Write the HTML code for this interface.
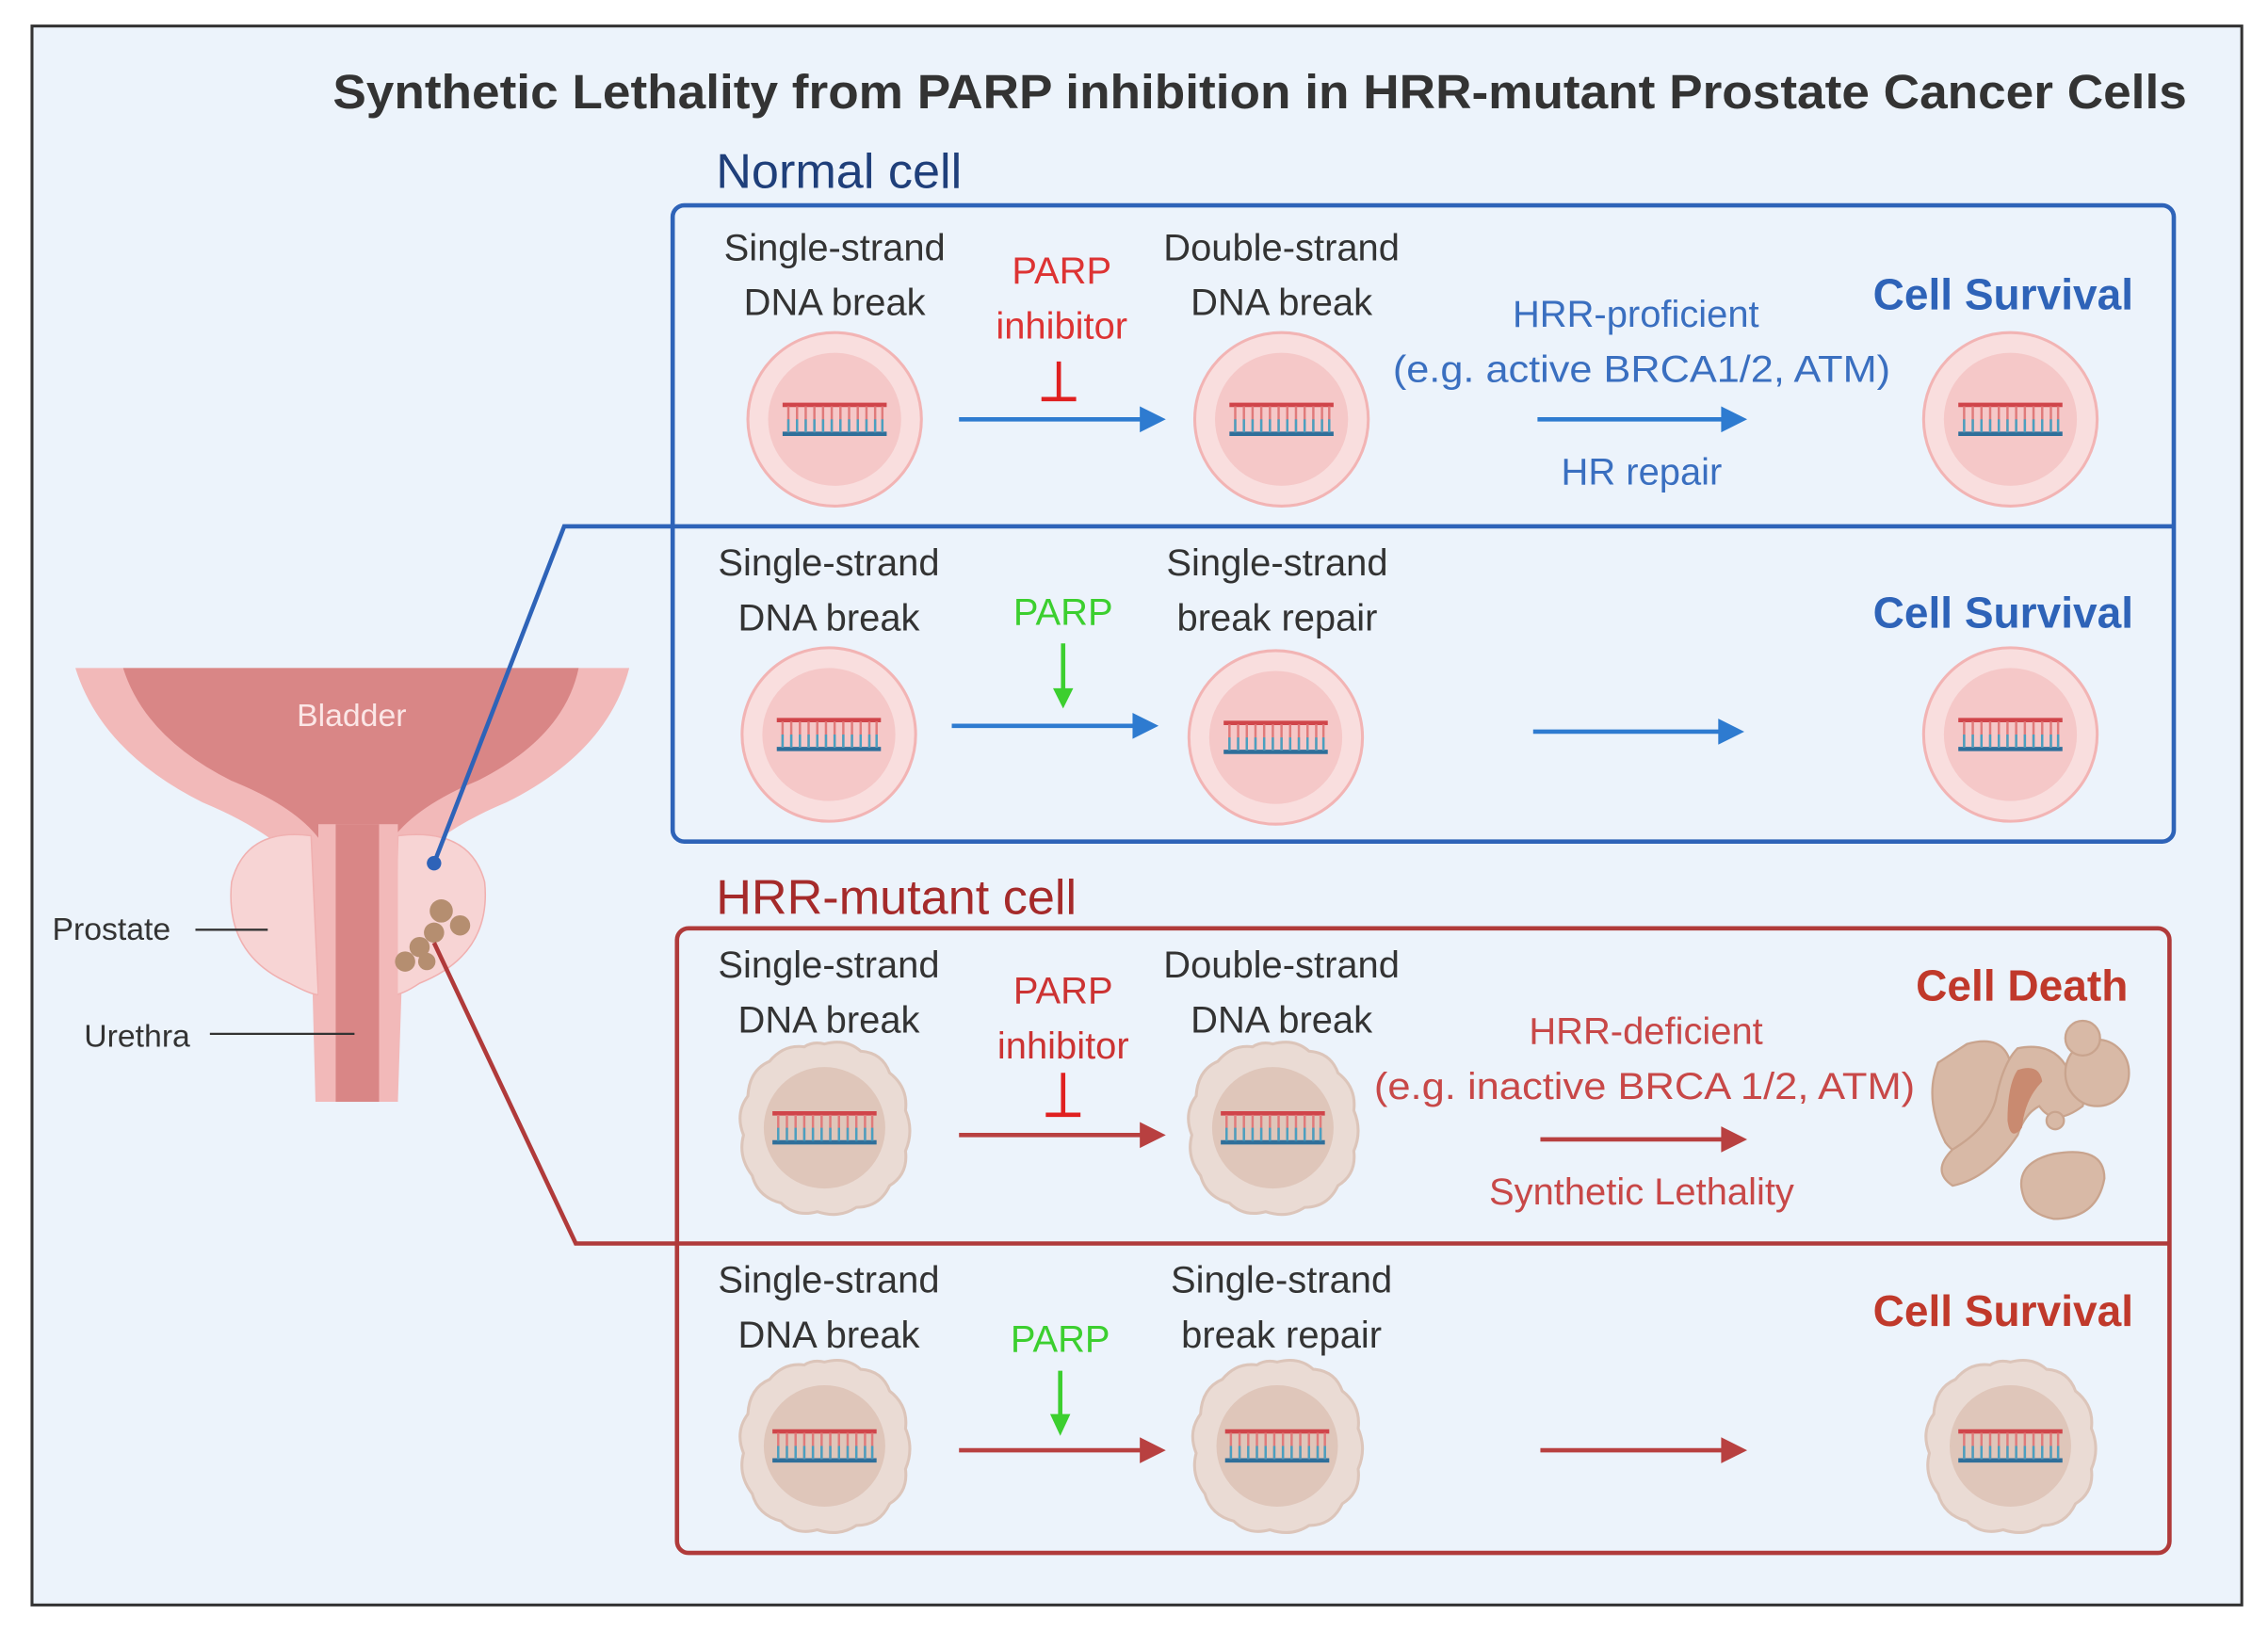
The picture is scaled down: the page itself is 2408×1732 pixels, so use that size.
<!DOCTYPE html>
<html><head><meta charset="utf-8"><style>
html,body{margin:0;padding:0;background:#fff;}
svg{display:block;}
text{font-family:"Liberation Sans",sans-serif;}
</style></head><body>
<svg width="2408" height="1732" viewBox="0 0 1568 1128" xmlns="http://www.w3.org/2000/svg">
<defs>
<g id="dna">
  <line x1="-36" y1="-10" x2="36" y2="-10" stroke="#d0454a" stroke-width="3"/>
  <line x1="-36" y1="10" x2="36" y2="10" stroke="#2f6f9a" stroke-width="3"/>
  <path d="M-32 -9V9M-26 -9V9M-20 -9V9M-14 -9V9M-8 -9V9M-2 -9V9M4 -9V9M10 -9V9M16 -9V9M22 -9V9M28 -9V9M33 -9V9" stroke="#e07a7a" stroke-width="1.6"/>
  <path d="M-32 0V9M-26 0V9M-20 0V9M-14 0V9M-8 0V9M-2 0V9M4 0V9M10 0V9M16 0V9M22 0V9M28 0V9M33 0V9" stroke="#4aa0c0" stroke-width="1.6"/>
</g>
<g id="ncell">
  <circle r="60" fill="#f9dede" stroke="#f2b4b4" stroke-width="2"/>
  <circle r="46" fill="#f5c8c8"/>
  <use href="#dna"/>
</g>
<g id="mcell">
  <path d="M0 -58 Q15 -62 25 -53 Q40 -52 45 -38 Q58 -28 56 -12 Q62 2 56 16 Q58 32 45 40 Q38 55 22 55 Q10 63 -5 58 Q-20 62 -30 52 Q-46 48 -50 33 Q-60 20 -56 5 Q-62 -10 -53 -22 Q-52 -40 -38 -46 Q-28 -58 -14 -56 Q-8 -60 0 -58Z" fill="#eadbd4" stroke="#dcc5ba" stroke-width="2"/>
  <circle r="42" fill="#dfc6ba"/>
  <use href="#dna"/>
</g>
</defs>
<rect width="1568" height="1128" fill="#fff"/>
<rect x="22" y="18" width="1528" height="1092" fill="#ecf3fb" stroke="#333" stroke-width="2"/>
<text x="230" y="75" textLength="1282" lengthAdjust="spacingAndGlyphs" font-size="33" font-weight="bold" fill="#333">Synthetic Lethality from PARP inhibition in HRR-mutant Prostate Cancer Cells</text>

<!-- bladder/prostate -->
<g>
  <path d="M52 462 H435 Q420 520 350 555 Q290 580 280 610 L275 762 H218 L214 610 Q200 580 140 555 Q70 520 52 462Z" fill="#f2b9b9"/>
  <path d="M85 462 H400 Q390 510 330 540 Q270 565 262 600 L262 762 H230 L230 600 Q222 565 160 540 Q100 510 85 462Z" fill="#d98686"/>
  <path d="M215 578 Q170 572 160 610 Q155 660 200 680 Q215 688 220 688 Z" fill="#f7d4d4" stroke="#f0b0b0"/>
  <path d="M275 578 Q325 572 335 610 Q340 660 290 680 Q278 688 272 688 Z" fill="#f7d4d4" stroke="#f0b0b0"/>
  <rect x="220" y="570" width="55" height="192" fill="#f2b9b9"/>
  <rect x="232" y="570" width="30" height="192" fill="#d98686"/>
  <g fill="#b58e70"><circle cx="305" cy="630" r="8"/><circle cx="318" cy="640" r="7"/><circle cx="300" cy="645" r="7"/><circle cx="290" cy="655" r="7"/><circle cx="280" cy="665" r="7"/><circle cx="295" cy="665" r="6"/></g>
  <text x="243" y="502" text-anchor="middle" font-size="22" fill="#fbe6e6">Bladder</text>
  <text x="36" y="650" font-size="22" fill="#333">Prostate</text>
  <line x1="135" y1="643" x2="185" y2="643" stroke="#333" stroke-width="1.5"/>
  <text x="58" y="724" font-size="22" fill="#333">Urethra</text>
  <line x1="145" y1="715" x2="245" y2="715" stroke="#333" stroke-width="1.5"/>
</g>
<polyline points="300,597 390,364 465,364" fill="none" stroke="#2e63b8" stroke-width="3"/>
<circle cx="300" cy="597" r="5" fill="#2e63b8"/>
<polyline points="300,652 398,860 468,860" fill="none" stroke="#b03a3a" stroke-width="3"/>

<!-- Normal -->
<text x="495" y="130" font-size="34" fill="#1f3f7a">Normal cell</text>
<rect x="465" y="142" width="1038" height="440" rx="8" fill="none" stroke="#2e63b8" stroke-width="3"/>
<line x1="465" y1="364" x2="1503" y2="364" stroke="#2e63b8" stroke-width="3"/>
<g font-size="26" fill="#333" text-anchor="middle">
<text x="577" y="180">Single-strand</text><text x="577" y="218">DNA break</text>
<text x="886" y="180">Double-strand</text><text x="886" y="218">DNA break</text>
<text x="573" y="398">Single-strand</text><text x="573" y="436">DNA break</text>
<text x="883" y="398">Single-strand</text><text x="883" y="436">break repair</text>
<text x="573" y="676">Single-strand</text><text x="573" y="714">DNA break</text>
<text x="886" y="676">Double-strand</text><text x="886" y="714">DNA break</text>
<text x="573" y="894">Single-strand</text><text x="573" y="932">DNA break</text>
<text x="886" y="894">Single-strand</text><text x="886" y="932">break repair</text>
</g>
<g font-size="26" text-anchor="middle">
<text x="734" y="196" fill="#d33">PARP</text><text x="734" y="234" fill="#d33">inhibitor</text>
<text x="735" y="694" fill="#c33">PARP</text><text x="735" y="732" fill="#c33">inhibitor</text>
<text x="735" y="432" fill="#3ccf2f">PARP</text>
<text x="733" y="935" fill="#3ccf2f">PARP</text>
<text x="1131" y="226" fill="#3a6fc0">HRR-proficient</text>
<text x="1135" y="264" fill="#3a6fc0" textLength="344" lengthAdjust="spacingAndGlyphs">(e.g. active BRCA1/2, ATM)</text>
<text x="1135" y="335" fill="#3a6fc0">HR repair</text>
<text x="1138" y="722" fill="#c84848">HRR-deficient</text>
<text x="1137" y="760" fill="#c84848" textLength="374" lengthAdjust="spacingAndGlyphs">(e.g. inactive BRCA 1/2, ATM)</text>
<text x="1135" y="833" fill="#c84848">Synthetic Lethality</text>
</g>
<g font-size="30" font-weight="bold" text-anchor="middle">
<text x="1385" y="214" fill="#2e63b8">Cell Survival</text>
<text x="1385" y="434" fill="#2e63b8">Cell Survival</text>
<text x="1398" y="692" fill="#c0392b">Cell Death</text>
<text x="1385" y="917" fill="#c0392b">Cell Survival</text>
</g>
<!-- inhibitor T -->
<path d="M732 250V275M720 276H744" stroke="#e02020" stroke-width="3" fill="none"/>
<path d="M735 742V770M723 771H747" stroke="#e02020" stroke-width="3" fill="none"/>
<!-- green arrows -->
<path d="M735 445V478" stroke="#3ccf2f" stroke-width="3"/><path d="M728 476L735 490L742 476Z" fill="#3ccf2f"/>
<path d="M733 948V980" stroke="#3ccf2f" stroke-width="3"/><path d="M726 978L733 993L740 978Z" fill="#3ccf2f"/>
<!-- blue arrows -->
<g fill="#2e7bd0" stroke="#2e7bd0">
<line x1="663" y1="290" x2="790" y2="290" stroke-width="3"/><path d="M788 281L806 290L788 299Z" stroke="none"/>
<line x1="1063" y1="290" x2="1192" y2="290" stroke-width="3"/><path d="M1190 281L1208 290L1190 299Z" stroke="none"/>
<line x1="658" y1="502" x2="785" y2="502" stroke-width="3"/><path d="M783 493L801 502L783 511Z" stroke="none"/>
<line x1="1060" y1="506" x2="1190" y2="506" stroke-width="3"/><path d="M1188 497L1206 506L1188 515Z" stroke="none"/>
</g>
<g fill="#b84040" stroke="#b84040">
<line x1="663" y1="785" x2="790" y2="785" stroke-width="3"/><path d="M788 776L806 785L788 794Z" stroke="none"/>
<line x1="1065" y1="788" x2="1192" y2="788" stroke-width="3"/><path d="M1190 779L1208 788L1190 797Z" stroke="none"/>
<line x1="663" y1="1003" x2="790" y2="1003" stroke-width="3"/><path d="M788 994L806 1003L788 1012Z" stroke="none"/>
<line x1="1065" y1="1003" x2="1192" y2="1003" stroke-width="3"/><path d="M1190 994L1208 1003L1190 1012Z" stroke="none"/>
</g>
<!-- cells -->
<use href="#ncell" x="577" y="290"/>
<use href="#ncell" x="886" y="290"/>
<use href="#ncell" x="1390" y="290"/>
<use href="#ncell" x="573" y="508"/>
<use href="#ncell" x="882" y="510"/>
<use href="#ncell" x="1390" y="508"/>

<!-- HRR-mutant -->
<text x="495" y="632" font-size="34" fill="#a52a2a">HRR-mutant cell</text>
<rect x="468" y="642" width="1032" height="432" rx="8" fill="none" stroke="#b03a3a" stroke-width="3"/>
<line x1="468" y1="860" x2="1500" y2="860" stroke="#b03a3a" stroke-width="3"/>
<use href="#mcell" x="570" y="780"/>
<use href="#mcell" x="880" y="780"/>
<use href="#mcell" x="570" y="1000"/>
<use href="#mcell" x="883" y="1000"/>
<use href="#mcell" x="1390" y="1000"/>
<!-- cell death -->
<g fill="#d8b9a6" stroke="#c9a48e" stroke-width="1.5">
<path d="M1360 722 Q1385 715 1390 735 Q1378 760 1385 785 Q1360 810 1345 790 Q1330 760 1340 735Z"/>
<path d="M1395 725 Q1420 720 1430 740 Q1445 745 1440 765 Q1420 780 1410 765 Q1400 770 1395 785 Q1375 815 1350 820 Q1335 810 1350 795 Q1375 780 1380 760 Q1385 735 1395 725Z"/>
<ellipse cx="1450" cy="742" rx="22" ry="23"/>
<circle cx="1440" cy="718" r="12"/>
<path d="M1400 830 Q1390 805 1420 798 Q1455 792 1455 815 Q1450 843 1420 843 Q1405 840 1400 830Z"/>
<circle cx="1421" cy="775" r="6"/>
</g>
<path d="M1395 740 Q1410 735 1412 748 Q1400 760 1398 780 Q1390 790 1388 775 Q1388 750 1395 740Z" fill="#c98a70"/>
</svg>
</body></html>
